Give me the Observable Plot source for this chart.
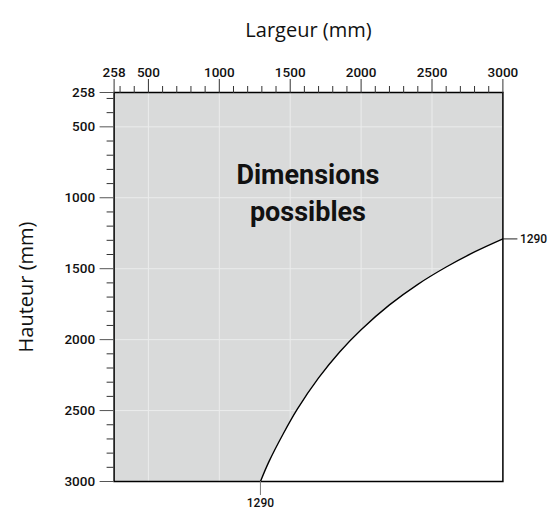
<!DOCTYPE html>
<html>
<head>
<meta charset="utf-8">
<script src="https://cdn.jsdelivr.net/npm/d3@7"></script>
<script src="https://cdn.jsdelivr.net/npm/@observablehq/plot@0.6"></script>
<style>
  html, body { margin: 0; padding: 0; background: #fff; }
</style>
</head>
<body>
<div id="chart"></div>
<script>
// Axis definitions
const xDomain = [258, 3000];
const yDomain = [258, 3000];
const majorTicks = [258, 500, 1000, 1500, 2000, 2500, 3000];
const minorTicks = [300, 400, 600, 700, 800, 900, 1100, 1200, 1300, 1400, 1600, 1700, 1800, 1900, 2100, 2200, 2300, 2400, 2600, 2700, 2800, 2900];
const gridValues = [500, 1000, 1500, 2000, 2500];
const markerValues = [1290];

// Limit curve: width (mm) vs height (mm)
const curveW = [1290, 1350, 1450, 1550, 1700, 1850, 2000, 2200, 2400, 2600, 2800, 3000];
const curveH = [3000, 2860, 2665, 2490, 2270, 2085, 1930, 1755, 1610, 1488, 1382, 1290];
const curve = curveW.map((w, i) => ({w, h: curveH[i]}));

const labelText = "Dimensions\npossibles";
const labelPos = {w: 1625, h: 950};

const chart = Plot.plot({
  width: 552,
  height: 512,
  marginLeft: 113.6,
  marginRight: 49.6,
  marginTop: 92,
  marginBottom: 31,
  style: {fontFamily: "Roboto, sans-serif", background: "#fff"},
  x: {domain: xDomain},
  y: {domain: yDomain, reverse: true},
  marks: [
    Plot.frame({fill: "#d9dada", stroke: null}),
    Plot.ruleX(gridValues, {x: d => d, stroke: "#ebecec", strokeWidth: 1}),
    Plot.ruleY(gridValues, {y: d => d, stroke: "#ebecec", strokeWidth: 1}),
    Plot.areaY(curve, {x: "w", y1: "h", y2: () => yDomain[1], fill: "#fff", curve: "catmull-rom"}),
    Plot.line(curve, {x: "w", y: "h", stroke: "#000", strokeWidth: 1.4, curve: "catmull-rom"}),
    Plot.frame({stroke: "#000", strokeWidth: 1.5}),
    // Top axis
    Plot.axisX({anchor: "top", ticks: majorTicks, tickSize: 14, tickPadding: 2, tickFormat: d => String(d), fontSize: 13.5, fontWeight: 500, label: null, stroke: "#333", fill: "#111"}),
    Plot.axisX({anchor: "top", ticks: minorTicks, tickSize: 7, tickFormat: () => "", label: null, stroke: "#333"}),
    // Left axis
    Plot.axisY({anchor: "left", ticks: majorTicks, tickSize: 14, tickPadding: 5, tickFormat: d => String(d), fontSize: 13.5, fontWeight: 500, label: null, stroke: "#555", fill: "#111"}),
    Plot.axisY({anchor: "left", ticks: minorTicks, tickSize: 7, tickFormat: () => "", label: null, stroke: "#333"}),
    // Marker ticks 1290
    Plot.axisX({anchor: "bottom", ticks: markerValues, tickSize: 14, tickPadding: 3, tickFormat: d => String(d), fontSize: 12, fontWeight: 500, label: null, stroke: "#777", fill: "#111"}),
    Plot.axisY({anchor: "right", ticks: markerValues, tickSize: 14, tickPadding: 3, tickFormat: d => String(d), fontSize: 12, fontWeight: 500, label: null, stroke: "#222", fill: "#111"}),
    // Axis titles
    Plot.text(["Largeur (mm)"], {frameAnchor: "top", textAnchor: "middle", dy: -70, fontSize: 20, fontFamily: "Open Sans, sans-serif", fill: "#111"}),
    Plot.text(["Hauteur (mm)"], {frameAnchor: "left", textAnchor: "middle", dx: -88, rotate: -90, fontSize: 20, fontFamily: "Open Sans, sans-serif", fill: "#111"}),
    // Annotation
    Plot.text([labelPos], {x: "w", y: "h", text: () => labelText, fontSize: 27, fontWeight: "bold", lineHeight: 1.35, fill: "#111", style: "letter-spacing:0.3px"})
  ]
});
document.getElementById("chart").appendChild(chart);
</script>
</body>
</html>
